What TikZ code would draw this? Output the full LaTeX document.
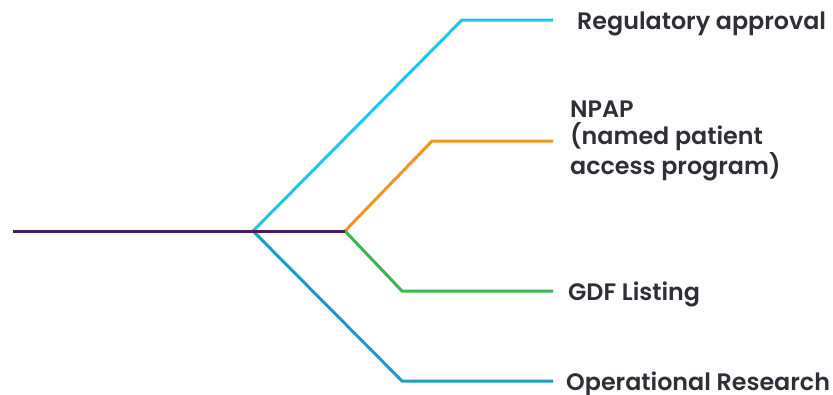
\documentclass[tikz,border=0pt]{standalone}
\usepackage{fontspec}
\setmainfont{Poppins}[BoldFont={Poppins SemiBold}]
\definecolor{stem}{HTML}{4B1B5E}
\definecolor{skyline}{HTML}{22C3F0}
\definecolor{orangeline}{HTML}{F7941D}
\definecolor{greenline}{HTML}{3DB54A}
\definecolor{tealline}{HTML}{1A9BC9}
\definecolor{labeltext}{HTML}{2F2F38}
\tikzset{
  branch/.style={line width=3pt, line join=miter},
  label/.style={font=\bfseries\fontsize{23.8}{27.2}\selectfont, text=labeltext, inner sep=0pt, anchor=base west, align=left}
}
\begin{document}
\begin{tikzpicture}[x=1pt,y=-1pt]
\useasboundingbox (0,0) rectangle (833,394);
% junctions and bends
\coordinate (start) at (13,231);
\coordinate (hubA) at (253,231);
\coordinate (hubB) at (345,231);
\coordinate (bendReg) at (462,20);
\coordinate (endReg) at (553,20);
\coordinate (bendNpap) at (432,141);
\coordinate (endNpap) at (553,141);
\coordinate (bendGdf) at (402,291);
\coordinate (endGdf) at (553,291);
\coordinate (bendOps) at (402,381);
\coordinate (endOps) at (553,381);
% branches
\draw[branch, skyline] (hubA) -- (bendReg) -- (endReg);
\draw[branch, tealline] (hubA) -- (bendOps) -- (endOps);
\draw[branch, orangeline] (hubB) -- (bendNpap) -- (endNpap);
\draw[branch, greenline] (hubB) -- (bendGdf) -- (endGdf);
\draw[branch, stem] (start) -- (hubB);
% labels (multi-line label sits on its last baseline)
\node[label] (reg) at (577,29) {Regulatory approval};
\node[label] (npap) at (570,174) {NPAP\\(named patient\\access program)};
\node[label] (gdf) at (568,300) {GDF Listing};
\node[label] (ops) at (566,390) {Operational Research};
\end{tikzpicture}
\end{document}
